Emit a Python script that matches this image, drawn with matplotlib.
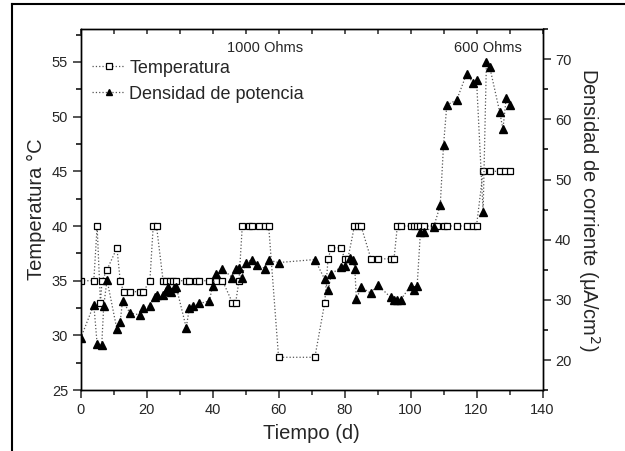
import matplotlib as mpl
mpl.rc('font', family='Liberation Sans', size=10)
import matplotlib.pyplot as plt
from matplotlib.ticker import MultipleLocator
from matplotlib.lines import Line2D

# Temperatura (°C) vs tiempo (d)
dias_temp = [0, 4, 5, 6, 6.5, 8, 11, 12, 13, 15, 18, 19, 21, 22, 23, 25, 26, 27, 28, 29,
             32, 33, 35, 36, 39, 41, 43, 46, 47, 48, 49, 51, 52, 54, 56, 57, 60, 71,
             74, 75, 76, 79, 80, 81, 83, 84, 85, 88, 90, 94, 95, 96, 97, 100, 101,
             102, 103, 104, 107, 108, 110, 111, 114, 117, 119, 120, 122, 124, 127,
             128.5, 130]
temperatura = [35, 35, 40, 33, 35, 36, 38, 35, 34, 34, 34, 34, 35, 40, 40, 35, 35, 35, 35, 35,
               35, 35, 35, 35, 35, 35, 35, 33, 33, 35, 40, 40, 40, 40, 40, 40, 28, 28,
               33, 37, 38, 38, 37, 37, 40, 40, 40, 37, 37, 37, 37, 40, 40, 40, 40,
               40, 40, 40, 40, 40, 40, 40, 40, 40, 40, 40, 45, 45, 45,
               45, 45]

# Densidad de corriente (uA/cm2) vs tiempo (d)
dias_dens = [0, 4, 5, 6.4, 7, 8, 11, 12, 12.7, 15, 18, 19, 21, 22.5, 23.2, 25, 25.8, 26.5,
             27.3, 28.3, 29, 32, 33, 34, 36, 39, 40, 41, 43, 46, 47, 48, 48.8, 50, 52,
             53.5, 56, 57, 60, 71, 74, 75, 76, 79, 80, 81.6, 82.6, 83.1, 83.6, 85, 88,
             90, 94, 95, 96, 97, 100, 101, 102, 103, 104, 107, 109, 110, 111, 114, 117,
             119, 120, 122, 123, 124, 127, 128, 129, 130]
densidad = [23.6, 29.2, 22.7, 22.5, 29.0, 33.3, 25.1, 26.4, 29.8, 27.8, 27.5, 28.7, 29.0, 30.4,
            30.8, 30.8, 31.5, 32.1, 31.3, 31.9, 32.1, 25.4, 28.7, 29.0, 29.4, 29.8, 32.3,
            34.3, 35.1, 33.7, 35.1, 35.3, 33.6, 36.2, 36.7, 35.8, 35.2, 36.6, 36.2, 36.7,
            33.4, 31.6, 34.3, 35.5, 35.6, 36.9, 36.7, 35.2, 30.1, 32.1, 31.1, 32.5, 30.4,
            30.0, 30.0, 30.0, 32.3, 31.6, 32.3, 41.3, 41.3, 42.1, 45.7, 55.7, 62.4, 63.2,
            67.6, 66.0, 66.6, 44.6, 69.6, 68.7, 61.3, 58.4, 63.5, 62.4]

txt = '#262626'
lc = '#555555'

fig = plt.figure(figsize=(6.25, 4.51), dpi=100)
ax = fig.add_axes([0.129, 0.135, 0.739, 0.8005])
ax2 = ax.twinx()

ax.plot(dias_temp, temperatura, ls=':', lw=0.9, color=lc, marker='s', ms=4.8,
        mfc='white', mec='black', mew=0.9)
ax2.plot(dias_dens, densidad, ls=':', lw=0.9, color=lc, marker='^', ms=6,
         mfc='black', mec='black')

ax.set_xlim(0, 140)
ax.set_ylim(25, 58)
ax2.set_ylim(15, 75)

ax.xaxis.set_major_locator(MultipleLocator(20))
ax.xaxis.set_minor_locator(MultipleLocator(10))
ax.yaxis.set_major_locator(MultipleLocator(5))
ax.yaxis.set_minor_locator(MultipleLocator(2.5))
ax2.yaxis.set_major_locator(MultipleLocator(10))
ax2.yaxis.set_minor_locator(MultipleLocator(5))

ax.tick_params(axis='x', which='both', direction='out', top=True, labelsize=10.5,
               colors=txt, width=1.1)
ax.tick_params(axis='x', which='major', length=5.5)
ax.tick_params(axis='x', which='minor', length=3.5)
ax.tick_params(axis='y', which='major', direction='out', length=5.5, width=1.1,
               labelsize=10.5, colors=txt)
ax.tick_params(axis='y', which='minor', direction='out', length=3.5, width=1.1)
ax2.tick_params(axis='y', which='major', direction='out', length=5.5, width=1.1,
                labelsize=10.5, colors=txt)
ax2.tick_params(axis='y', which='minor', direction='out', length=3.5, width=1.1)
# top ticks point inward
for t in ax.xaxis.get_major_ticks() + ax.xaxis.get_minor_ticks():
    t.tick2line.set_marker(3)
    t.tick2line.set_markersize(3.5)

for a in (ax, ax2):
    for s in a.spines.values():
        s.set_linewidth(1.0)

ax.set_xlabel('Tiempo (d)', fontsize=14.5, color=txt, labelpad=5)
ax.set_ylabel('Temperatura °C', fontsize=14.5, color=txt, labelpad=4)
ax2.set_ylabel('Densidad de corriente (μA/cm$^2$)', fontsize=14.5, color=txt,
               rotation=-90, labelpad=22)

ax.text(56, 56.3, '1000 Ohms', ha='center', va='center', fontsize=10.5, color=txt)
ax.text(123.5, 56.3, '600 Ohms', ha='center', va='center', fontsize=10.5, color=txt)

handles = [Line2D([], [], ls=':', lw=0.9, color=lc, marker='s', ms=4, mfc='white',
                  mec='black', mew=0.9),
           Line2D([], [], ls=':', lw=0.9, color=lc, marker='^', ms=5, mfc='black',
                  mec='black')]
ax.legend(handles, ['Temperatura', 'Densidad de potencia'], loc='upper left',
          bbox_to_anchor=(-0.01, 0.96), frameon=False, fontsize=13, numpoints=1,
          handlelength=1.8, handletextpad=0.25, labelspacing=0.5, labelcolor=txt)

# outer frame lines (left and top edges)
fig.add_artist(Line2D([12 / 625, 12 / 625], [0, 1 - 4 / 451], color='black', lw=1.5))
fig.add_artist(Line2D([12 / 625, 1], [1 - 4 / 451, 1 - 4 / 451], color='black', lw=1.5))

fig.savefig('out.png', dpi=100)
